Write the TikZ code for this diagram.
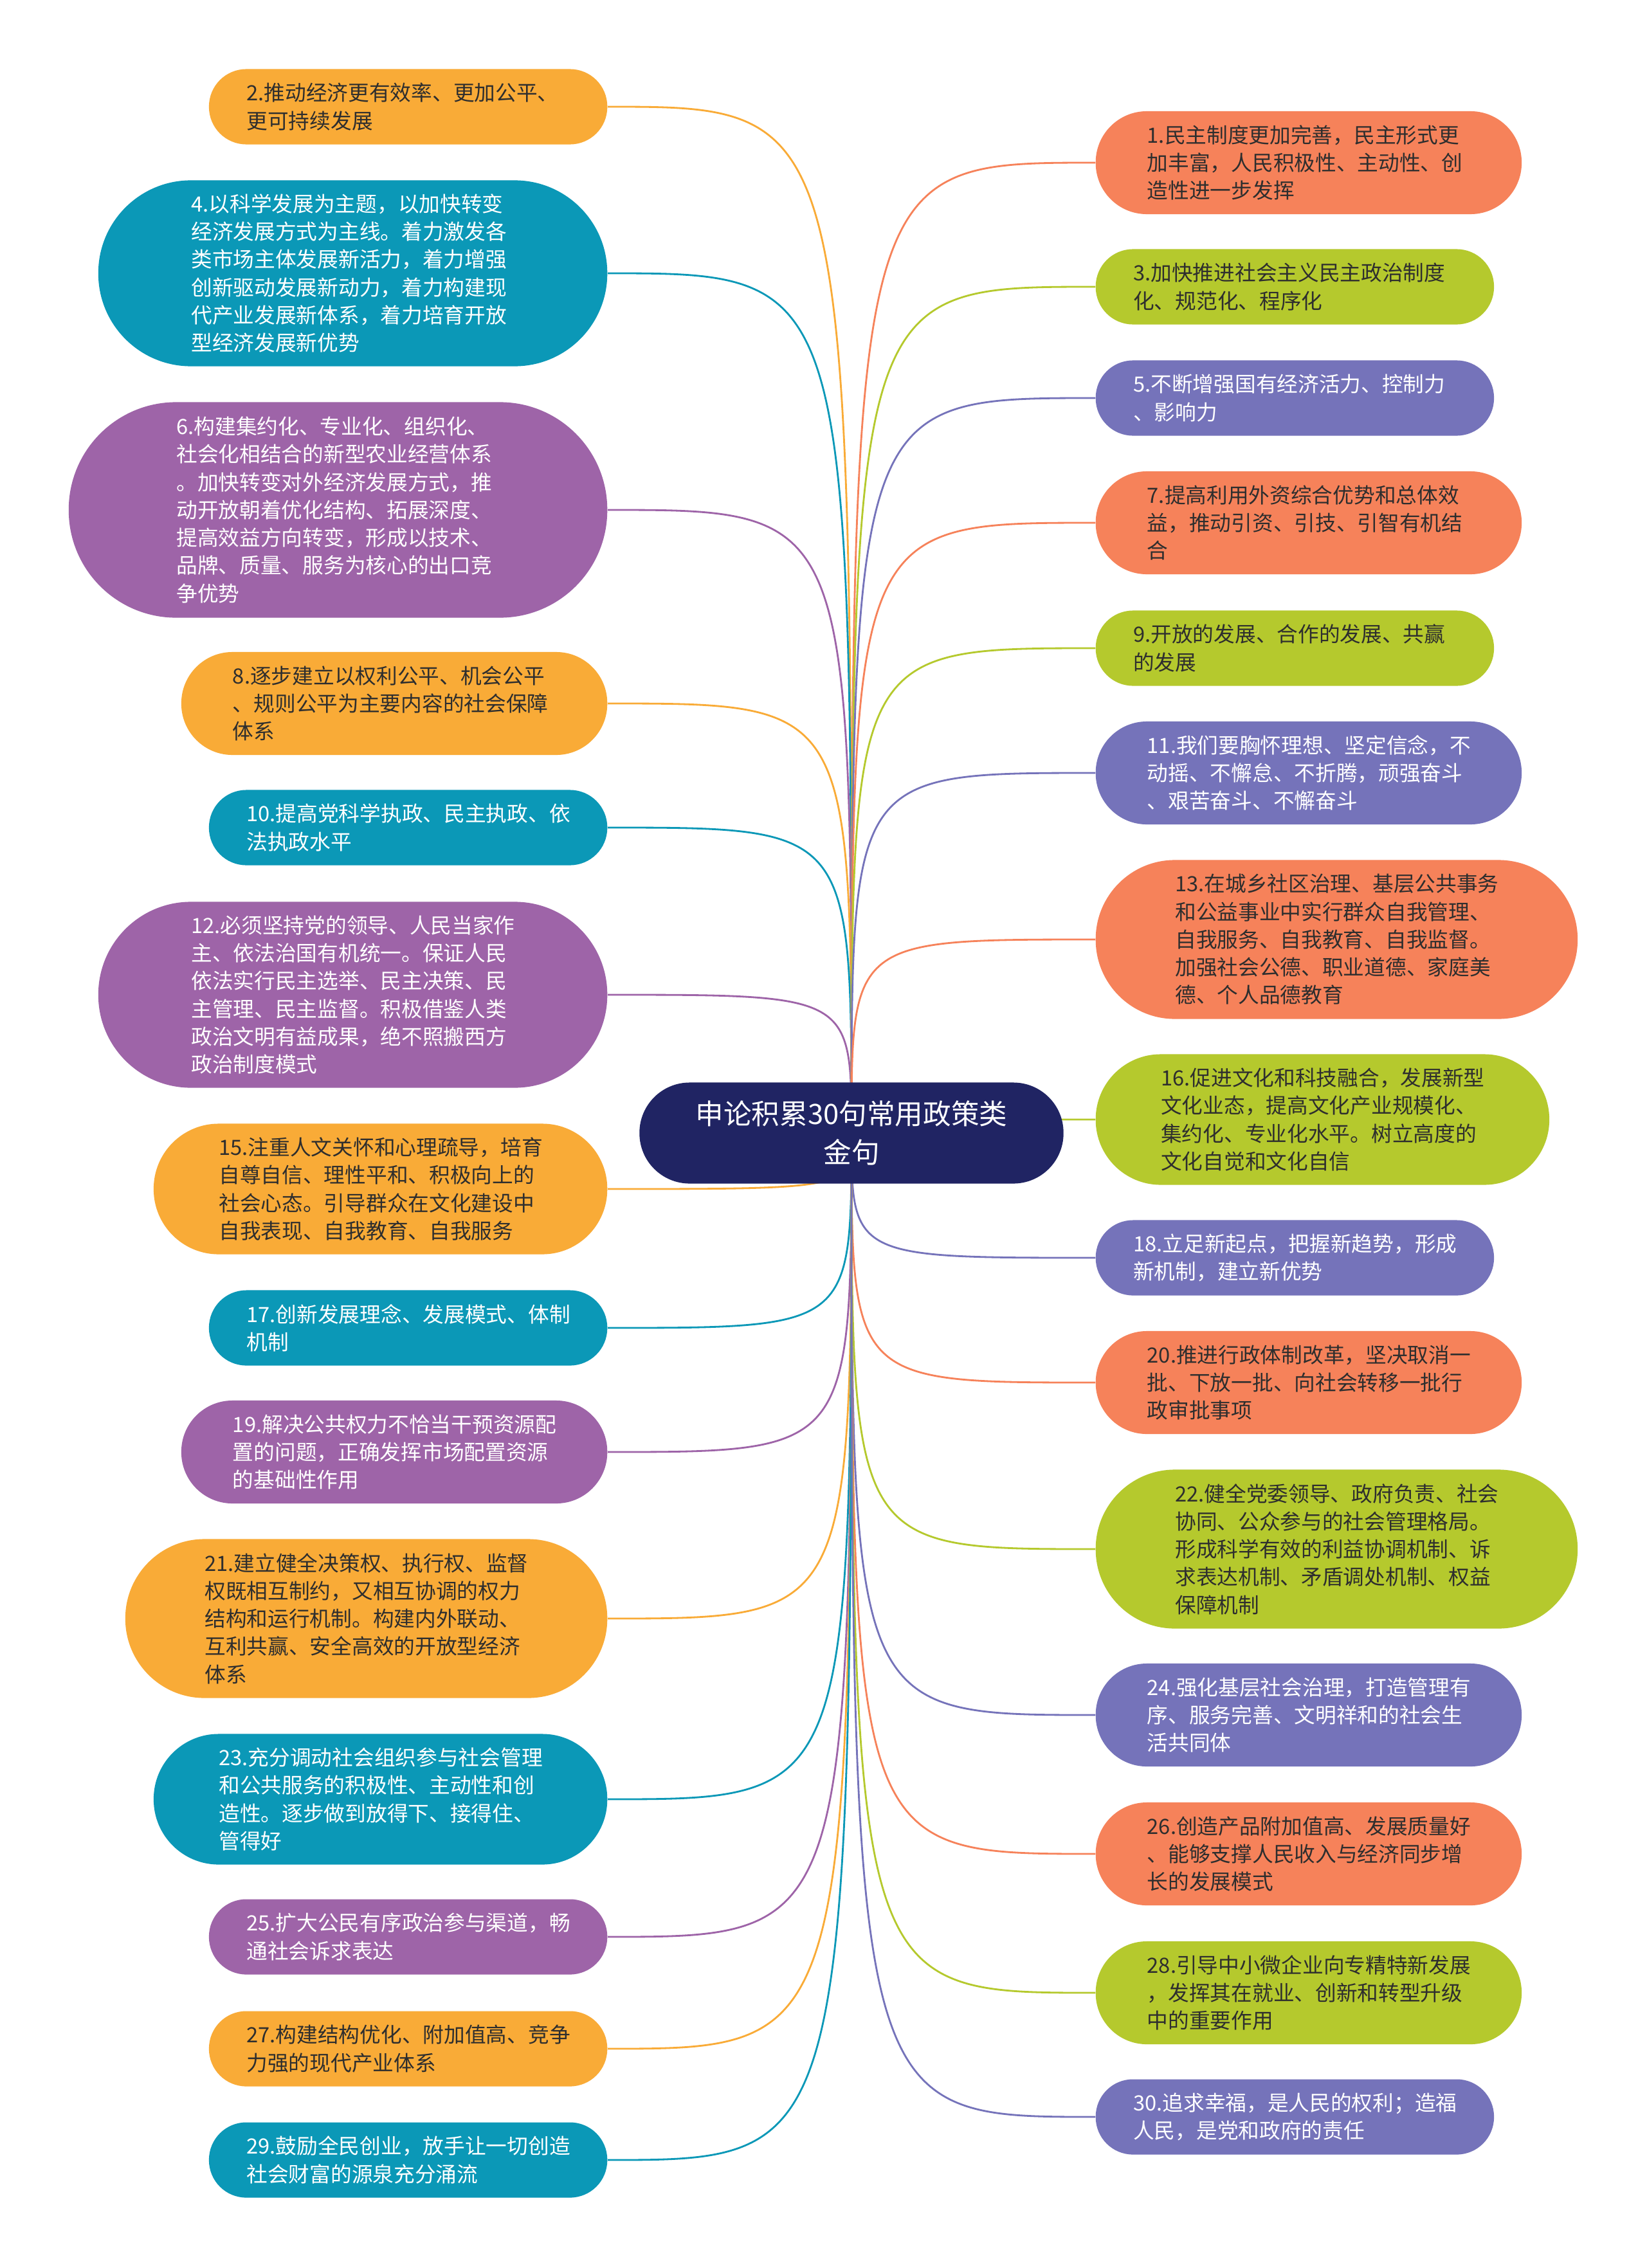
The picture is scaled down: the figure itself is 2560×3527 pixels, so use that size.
\documentclass[tikz,border=0pt]{standalone}
\usepackage{fontspec}
\setmainfont{Noto Sans CJK SC}
\usetikzlibrary{backgrounds}

\definecolor{amberC}{HTML}{F9AB37}
\definecolor{tealC}{HTML}{0B98B7}
\definecolor{plumC}{HTML}{9E64A8}
\definecolor{coralC}{HTML}{F6825A}
\definecolor{limeC}{HTML}{B5C92D}
\definecolor{lilacC}{HTML}{7573BA}
\definecolor{navyC}{HTML}{202463}
\definecolor{inkC}{HTML}{2E2E2E}

\tikzset{
  leaf/.style={rectangle, text width=5.02cm, align=left, inner ysep=0pt,
    font=\fontsize{9.3}{12.3}\selectfont},
  darkleaf/.style={leaf, text=inkC},
  lightleaf/.style={leaf, text=white},
  twoline/.style={minimum height=1.17cm, inner xsep=0.585cm, rounded corners=0.58cm},
  threeline/.style={minimum height=1.60cm, inner xsep=0.80cm, rounded corners=0.795cm},
  fourline/.style={minimum height=2.03cm, inner xsep=1.015cm, rounded corners=1.01cm},
  fiveline/.style={minimum height=2.47cm, inner xsep=1.235cm, rounded corners=1.23cm},
  sixline/.style={minimum height=2.89cm, inner xsep=1.445cm, rounded corners=1.44cm},
  sevenline/.style={minimum height=3.35cm, inner xsep=1.675cm, rounded corners=1.67cm},
  root/.style={rectangle, text width=5.02cm, align=center, fill=navyC, text=white,
    minimum height=1.57cm, inner ysep=0pt, inner xsep=0.785cm, rounded corners=0.78cm,
    font=\fontsize{12.4}{17.3}\selectfont},
  branch/.style={line width=0.8pt}
}

\begin{document}
\begin{tikzpicture}[x=0.01cm, y=-0.01cm]
        \useasboundingbox (0,0) rectangle (2560,3527);

        % The root
        \node[root] (root) at (1324,1762) {申论积累30句常用政策类\\金句};

        % Left column
        \node[darkleaf, twoline, fill=amberC, anchor=east] (n2) at (945,166) {2.推动经济更有效率、更加公平、\\更可持续发展};
        \node[lightleaf, sixline, fill=tealC, anchor=east] (n4) at (945,425) {4.以科学发展为主题，以加快转变\\经济发展方式为主线。着力激发各\\类市场主体发展新活力，着力增强\\创新驱动发展新动力，着力构建现\\代产业发展新体系，着力培育开放\\型经济发展新优势};
        \node[lightleaf, sevenline, fill=plumC, anchor=east] (n6) at (945,793) {6.构建集约化、专业化、组织化、\\社会化相结合的新型农业经营体系\\。加快转变对外经济发展方式，推\\动开放朝着优化结构、拓展深度、\\提高效益方向转变，形成以技术、\\品牌、质量、服务为核心的出口竞\\争优势};
        \node[darkleaf, threeline, fill=amberC, anchor=east] (n8) at (945,1094) {8.逐步建立以权利公平、机会公平\\、规则公平为主要内容的社会保障\\体系};
        \node[lightleaf, twoline, fill=tealC, anchor=east] (n10) at (945,1287) {10.提高党科学执政、民主执政、依\\法执政水平};
        \node[lightleaf, sixline, fill=plumC, anchor=east] (n12) at (945,1547) {12.必须坚持党的领导、人民当家作\\主、依法治国有机统一。保证人民\\依法实行民主选举、民主决策、民\\主管理、民主监督。积极借鉴人类\\政治文明有益成果，绝不照搬西方\\政治制度模式};
        \node[darkleaf, fourline, fill=amberC, anchor=east] (n15) at (945,1849) {15.注重人文关怀和心理疏导，培育\\自尊自信、理性平和、积极向上的\\社会心态。引导群众在文化建设中\\自我表现、自我教育、自我服务};
        \node[lightleaf, twoline, fill=tealC, anchor=east] (n17) at (945,2065) {17.创新发展理念、发展模式、体制\\机制};
        \node[lightleaf, threeline, fill=plumC, anchor=east] (n19) at (945,2258) {19.解决公共权力不恰当干预资源配\\置的问题，正确发挥市场配置资源\\的基础性作用};
        \node[darkleaf, fiveline, fill=amberC, anchor=east] (n21) at (945,2517) {21.建立健全决策权、执行权、监督\\权既相互制约，又相互协调的权力\\结构和运行机制。构建内外联动、\\互利共赢、安全高效的开放型经济\\体系};
        \node[lightleaf, fourline, fill=tealC, anchor=east] (n23) at (945,2798) {23.充分调动社会组织参与社会管理\\和公共服务的积极性、主动性和创\\造性。逐步做到放得下、接得住、\\管得好};
        \node[lightleaf, twoline, fill=plumC, anchor=east] (n25) at (945,3012) {25.扩大公民有序政治参与渠道，畅\\通社会诉求表达};
        \node[darkleaf, twoline, fill=amberC, anchor=east] (n27) at (945,3186) {27.构建结构优化、附加值高、竞争\\力强的现代产业体系};
        \node[lightleaf, twoline, fill=tealC, anchor=east] (n29) at (945,3359) {29.鼓励全民创业，放手让一切创造\\社会财富的源泉充分涌流};

        % Right column
        \node[darkleaf, threeline, fill=coralC, anchor=west] (n1) at (1703,253) {1.民主制度更加完善，民主形式更\\加丰富，人民积极性、主动性、创\\造性进一步发挥};
        \node[darkleaf, twoline, fill=limeC, anchor=west] (n3) at (1703,446) {3.加快推进社会主义民主政治制度\\化、规范化、程序化};
        \node[lightleaf, twoline, fill=lilacC, anchor=west] (n5) at (1703,619) {5.不断增强国有经济活力、控制力\\、影响力};
        \node[darkleaf, threeline, fill=coralC, anchor=west] (n7) at (1703,813) {7.提高利用外资综合优势和总体效\\益，推动引资、引技、引智有机结\\合};
        \node[darkleaf, twoline, fill=limeC, anchor=west] (n9) at (1703,1008) {9.开放的发展、合作的发展、共赢\\的发展};
        \node[lightleaf, threeline, fill=lilacC, anchor=west] (n11) at (1703,1202) {11.我们要胸怀理想、坚定信念，不\\动摇、不懈怠、不折腾，顽强奋斗\\、艰苦奋斗、不懈奋斗};
        \node[darkleaf, fiveline, fill=coralC, anchor=west] (n13) at (1703,1461) {13.在城乡社区治理、基层公共事务\\和公益事业中实行群众自我管理、\\自我服务、自我教育、自我监督。\\加强社会公德、职业道德、家庭美\\德、个人品德教育};
        \node[darkleaf, fourline, fill=limeC, anchor=west] (n16) at (1703,1741) {16.促进文化和科技融合，发展新型\\文化业态，提高文化产业规模化、\\集约化、专业化水平。树立高度的\\文化自觉和文化自信};
        \node[lightleaf, twoline, fill=lilacC, anchor=west] (n18) at (1703,1956) {18.立足新起点，把握新趋势，形成\\新机制，建立新优势};
        \node[darkleaf, threeline, fill=coralC, anchor=west] (n20) at (1703,2150) {20.推进行政体制改革，坚决取消一\\批、下放一批、向社会转移一批行\\政审批事项};
        \node[darkleaf, fiveline, fill=limeC, anchor=west] (n22) at (1703,2409) {22.健全党委领导、政府负责、社会\\协同、公众参与的社会管理格局。\\形成科学有效的利益协调机制、诉\\求表达机制、矛盾调处机制、权益\\保障机制};
        \node[lightleaf, threeline, fill=lilacC, anchor=west] (n24) at (1703,2667) {24.强化基层社会治理，打造管理有\\序、服务完善、文明祥和的社会生\\活共同体};
        \node[darkleaf, threeline, fill=coralC, anchor=west] (n26) at (1703,2883) {26.创造产品附加值高、发展质量好\\、能够支撑人民收入与经济同步增\\长的发展模式};
        \node[darkleaf, threeline, fill=limeC, anchor=west] (n28) at (1703,3099) {28.引导中小微企业向专精特新发展\\，发挥其在就业、创新和转型升级\\中的重要作用};
        \node[lightleaf, twoline, fill=lilacC, anchor=west] (n30) at (1703,3292) {30.追求幸福，是人民的权利；造福\\人民，是党和政府的责任};

        % Branches behind the nodes
        \begin{scope}[on background layer]
          \fill[white] (0,0) rectangle (2560,3527);
          \foreach \n/\c in {n2/amberC, n4/tealC, n6/plumC, n8/amberC, n10/tealC, n12/plumC, n15/amberC,
                             n17/tealC, n19/plumC, n21/amberC, n23/tealC, n25/plumC, n27/amberC, n29/tealC}
            \draw[branch, draw=\c] (root.center) .. controls (root.center |- \n.east) .. (\n.east);
          \foreach \n/\c in {n1/coralC, n3/limeC, n5/lilacC, n7/coralC, n9/limeC, n11/lilacC, n13/coralC, n16/limeC,
                             n18/lilacC, n20/coralC, n22/limeC, n24/lilacC, n26/coralC, n28/limeC, n30/lilacC}
            \draw[branch, draw=\c] (root.center) .. controls (root.center |- \n.west) .. (\n.west);
        \end{scope}
    \end{tikzpicture}
\end{document}
